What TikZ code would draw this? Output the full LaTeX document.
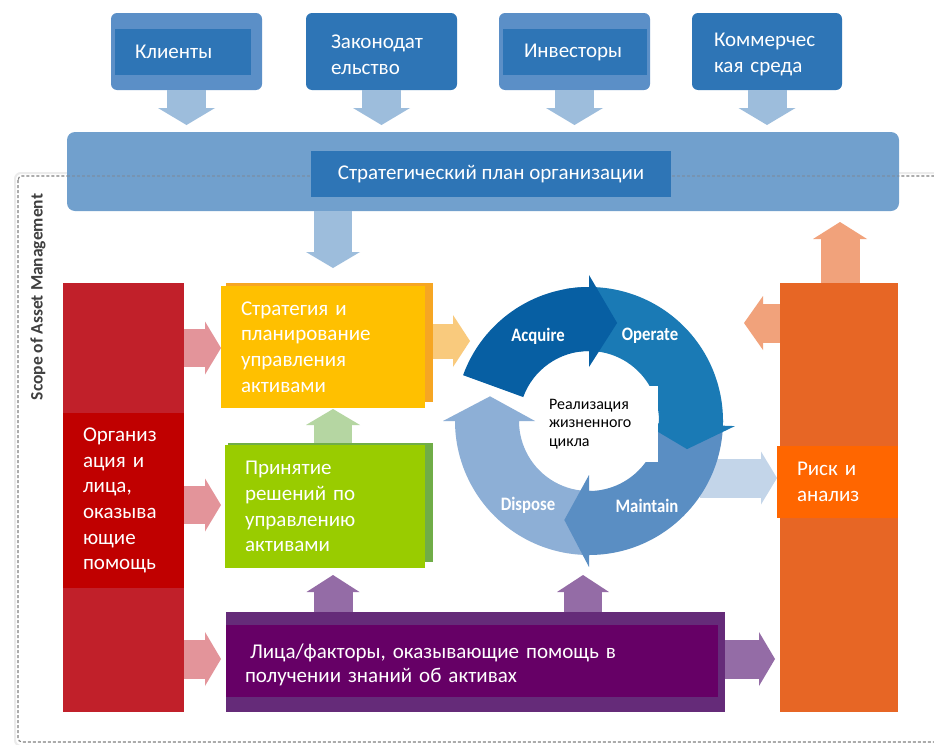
\documentclass[tikz,border=0pt]{standalone}
\usepackage{fontspec}
\setmainfont{Carlito}
\newfontfamily\cycfont[FakeStretch=0.88]{Carlito}
\usetikzlibrary{arrows.meta,calc}
\definecolor{tlight}{HTML}{5B8FC7}
\definecolor{tdark}{HTML}{2E75B6}
\definecolor{tarrow}{HTML}{9DBDDC}
\definecolor{planc}{HTML}{71A0CD}
\definecolor{redc}{HTML}{C1202A}
\definecolor{redin}{HTML}{C00000}
\definecolor{pinka}{HTML}{E3949A}
\definecolor{yel}{HTML}{FFC000}
\definecolor{yelback}{HTML}{F6A623}
\definecolor{yela}{HTML}{F9CA7D}
\definecolor{grn}{HTML}{99CC00}
\definecolor{grnback}{HTML}{70AD47}
\definecolor{grna}{HTML}{B5D6A2}
\definecolor{purout}{HTML}{652B79}
\definecolor{purin}{HTML}{660066}
\definecolor{pura}{HTML}{946CA6}
\definecolor{orc}{HTML}{E76625}
\definecolor{orin}{HTML}{FF6600}
\definecolor{ora}{HTML}{F1A27B}
\definecolor{lba}{HTML}{C3D5E9}
\definecolor{acq}{HTML}{075FA3}
\definecolor{ope}{HTML}{1A7AB5}
\definecolor{mai}{HTML}{5A8EC3}
\definecolor{dis}{HTML}{8DAFD6}
\definecolor{scopegray}{HTML}{3F3F3F}
\definecolor{dashgray}{HTML}{808080}
\tikzset{
  plain/.style={rectangle, inner sep=0pt, outer sep=0pt},
  barrow/.style n args={3}{line width=#1, -{Triangle[width=#2, length=#3, line width=0pt]}},
  txt/.style={text=white, align=left, font=\fontsize{21}{25.7}\selectfont},
  cyclbl/.style={text=white, font=\cycfont\bfseries\fontsize{19}{21}\selectfont},
  dashb/.style={dashgray, line width=1.1pt, dash pattern=on 3pt off 2pt},
}
\begin{document}
\begin{tikzpicture}[x=1pt,y=-1pt]
\clip (0,0) rectangle (934,744);
\fill[white] (0,0) rectangle (934,744);

% scope border
\draw[black!8, line width=2pt, rounded corners=6pt] (15,173) rectangle (960,746);
\draw[dashb, rounded corners=4pt] (18,176) rectangle (960,742);
\node[plain, rotate=90, text=scopegray, font=\bfseries\fontsize{17.5}{19}\selectfont] (scopelbl) at (38,297) {Scope of Asset Management};

% helper coordinates
\coordinate (colA) at (333,0);
\coordinate (colB) at (583,0);
\coordinate (colR) at (840,0);
\coordinate (r0) at (0,323);
\coordinate (r1) at (0,348);
\coordinate (r2) at (0,505);
\coordinate (r3) at (0,659);
\coordinate (r4) at (0,341);
\coordinate (acqin) at (470,341);
\coordinate (lbtail) at (700,478);
\coordinate (cyc) at (589,421);

% top boxes
\node[plain, fill=tlight, rounded corners=6pt, minimum width=151pt, minimum height=77pt] (kl) at (186.5,51.5) {};
\node[plain, fill=tdark, minimum width=136pt, minimum height=46pt, text width=96pt, inner xsep=20pt, txt] (klin) at (183,52) {Клиенты};
\node[plain, fill=tdark, rounded corners=6pt, minimum width=151pt, minimum height=77pt] (zak) at (381.5,51.5) {};
\node[plain, text width=101pt, txt] (zaktxt) at (381.5,54.5) {Законодат\\ельство};
\node[plain, fill=tlight, rounded corners=6pt, minimum width=151pt, minimum height=77pt] (inv) at (574.5,51.5) {};
\node[plain, fill=tdark, minimum width=144pt, minimum height=46pt, text width=102pt, inner xsep=21pt, txt] (invin) at (575,52) {Инвесторы};
\node[plain, fill=tdark, rounded corners=6pt, minimum width=150pt, minimum height=77pt] (kom) at (767,51.5) {};
\node[plain, text width=106pt, txt] (komtxt) at (767,54.5) {Коммерчес\\кая среда};

% strategic plan
\node[plain, fill=planc, rounded corners=8pt, minimum width=832pt, minimum height=79pt] (plan) at (483,171.5) {};
\draw[dashb, opacity=.35] (67,176) -- (899,176);
\node[plain, fill=tdark, minimum width=360pt, minimum height=46pt, txt, align=center] (planin) at (491,174) {Стратегический план организации};

\foreach \b in {kl,zak,inv,kom}
  \draw[tarrow, barrow={39pt}{57pt}{17pt}] (\b.south) -- ($(\b.south |- plan.north)+(0,-7)$);

% left column
\node[plain, fill=redc, minimum width=121pt, minimum height=429pt] (redcol) at (123.5,497.5) {};
\node[plain, fill=redin, minimum width=121pt, minimum height=175pt, text width=81pt, inner xsep=20pt, txt] (redinbox) at (123.5,500.5) {Организ\\ация и\\лица,\\оказыва\\ющие\\помощь};

% strategy box
\node[plain, fill=yelback, minimum width=207pt, minimum height=119pt] (stratback) at (329.5,342.5) {};
\node[plain, fill=yel, minimum width=204pt, minimum height=122pt, text width=164pt, inner xsep=20pt, txt] (strat) at (323,347) {Стратегия и\\планирование\\управления\\активами};

% decision box
\node[plain, fill=grnback, minimum width=205pt, minimum height=119pt] (decback) at (330.5,502.5) {};
\node[plain, fill=grn, minimum width=200pt, minimum height=123pt, text width=160pt, inner xsep=20pt, txt] (dec) at (325,506.5) {Принятие\\решений по\\управлению\\активами};

% knowledge bar
\node[plain, fill=purout, minimum width=499pt, minimum height=100pt] (knowout) at (475.5,662) {};
\node[plain, fill=purin, minimum width=492pt, minimum height=72pt] (knowin) at (472,661) {};
\node[plain, text width=454pt, txt, font=\fontsize{21}{24}\selectfont] (knowtxt) at (472,665) {\hspace*{5pt}Лица/факторы, оказывающие помощь в\\получении знаний об активах};

% risk column
\node[plain, fill=orc, minimum width=118pt, minimum height=429pt] (riskcol) at (839,497.5) {};
\node[plain, fill=orin, minimum width=121pt, minimum height=72pt, text width=81pt, inner xsep=20pt, txt] (riskin) at (837.5,482) {Риск и\\анализ};

% block arrows
\draw[tarrow, barrow={38pt}{54pt}{16pt}] (plan.south -| colA) -- ($(stratback.north -| colA)+(0,-15)$);
\draw[grna, barrow={38pt}{54pt}{16pt}] (decback.north -| colA) -- ($(strat.south -| colA)+(0,1)$);
\draw[pura, barrow={39pt}{53pt}{17pt}] (knowout.north -| colA) -- ($(dec.south -| colA)+(0,7)$);
\draw[pura, barrow={38pt}{52pt}{17pt}] (knowout.north -| colB) -- ($(knowout.north -| colB)+(0,-37)$);
\draw[pinka, barrow={38pt}{53pt}{16pt}] (redcol.east |- r1) -- (strat.west |- r1);
\draw[pinka, barrow={38pt}{53pt}{16pt}] (redcol.east |- r2) -- ($(dec.west |- r2)+(-4,0)$);
\draw[pinka, barrow={39pt}{54pt}{16pt}] (redcol.east |- r3) -- ($(knowout.west |- r3)+(-5,0)$);
\draw[pura, barrow={39pt}{54pt}{16pt}] (knowout.east |- r3) -- ($(riskcol.west |- r3)+(-5,0)$);
\draw[ora, barrow={39pt}{54pt}{17pt}] (riskcol.north -| colR) -- ($(plan.south -| colR)+(0,11)$);
\draw[ora, barrow={39pt}{54pt}{19pt}] (riskcol.west |- r0) -- ($(riskcol.west |- r0)+(-36,0)$);
\draw[yela, barrow={35pt}{52pt}{17pt}] (stratback.east |- r4) -- (acqin);
\draw[lba, barrow={39pt}{53pt}{16pt}] (lbtail) -- (riskin.west |- lbtail);

% life cycle
\begin{scope}[shift={(cyc)}, yscale=-1]
\fill[dis] (272:134) arc[start angle=272, end angle=180, radius=134] -- (180:146) -- (166:102) -- (180:54) -- (180:70) arc[start angle=180, end angle=272, radius=70] -- cycle;
\fill[mai] (0:134) arc[start angle=0, end angle=-90, radius=134] -- (-90:146) -- (-104:102) -- (-90:54) -- (-90:70) arc[start angle=-90, end angle=0, radius=70] -- cycle;
\fill[ope] (100:134) arc[start angle=100, end angle=-2, radius=134] -- (-2:146) -- (-16:102) -- (-2:54) -- (-2:70) arc[start angle=-2, end angle=100, radius=70] -- cycle;
\fill[acq] (160:134) arc[start angle=160, end angle=90, radius=134] -- (90:146) -- (74:102) -- (90:54) -- (90:70) arc[start angle=90, end angle=160, radius=70] -- cycle;
\end{scope}
\node[plain, fill=white, minimum width=118pt, minimum height=76pt, text width=100pt, inner xsep=9pt, align=left, font=\fontsize{16}{18.5}\selectfont] (life) at (599,424) {Реализация\\жизненного\\цикла};
\node[cyclbl] (lacq) at (538,336) {Acquire};
\node[cyclbl] (lope) at (650,336) {Operate};
\node[cyclbl] (lmai) at (647,506) {Maintain};
\node[cyclbl] (ldis) at (528,505) {Dispose};
\end{tikzpicture}
\end{document}
